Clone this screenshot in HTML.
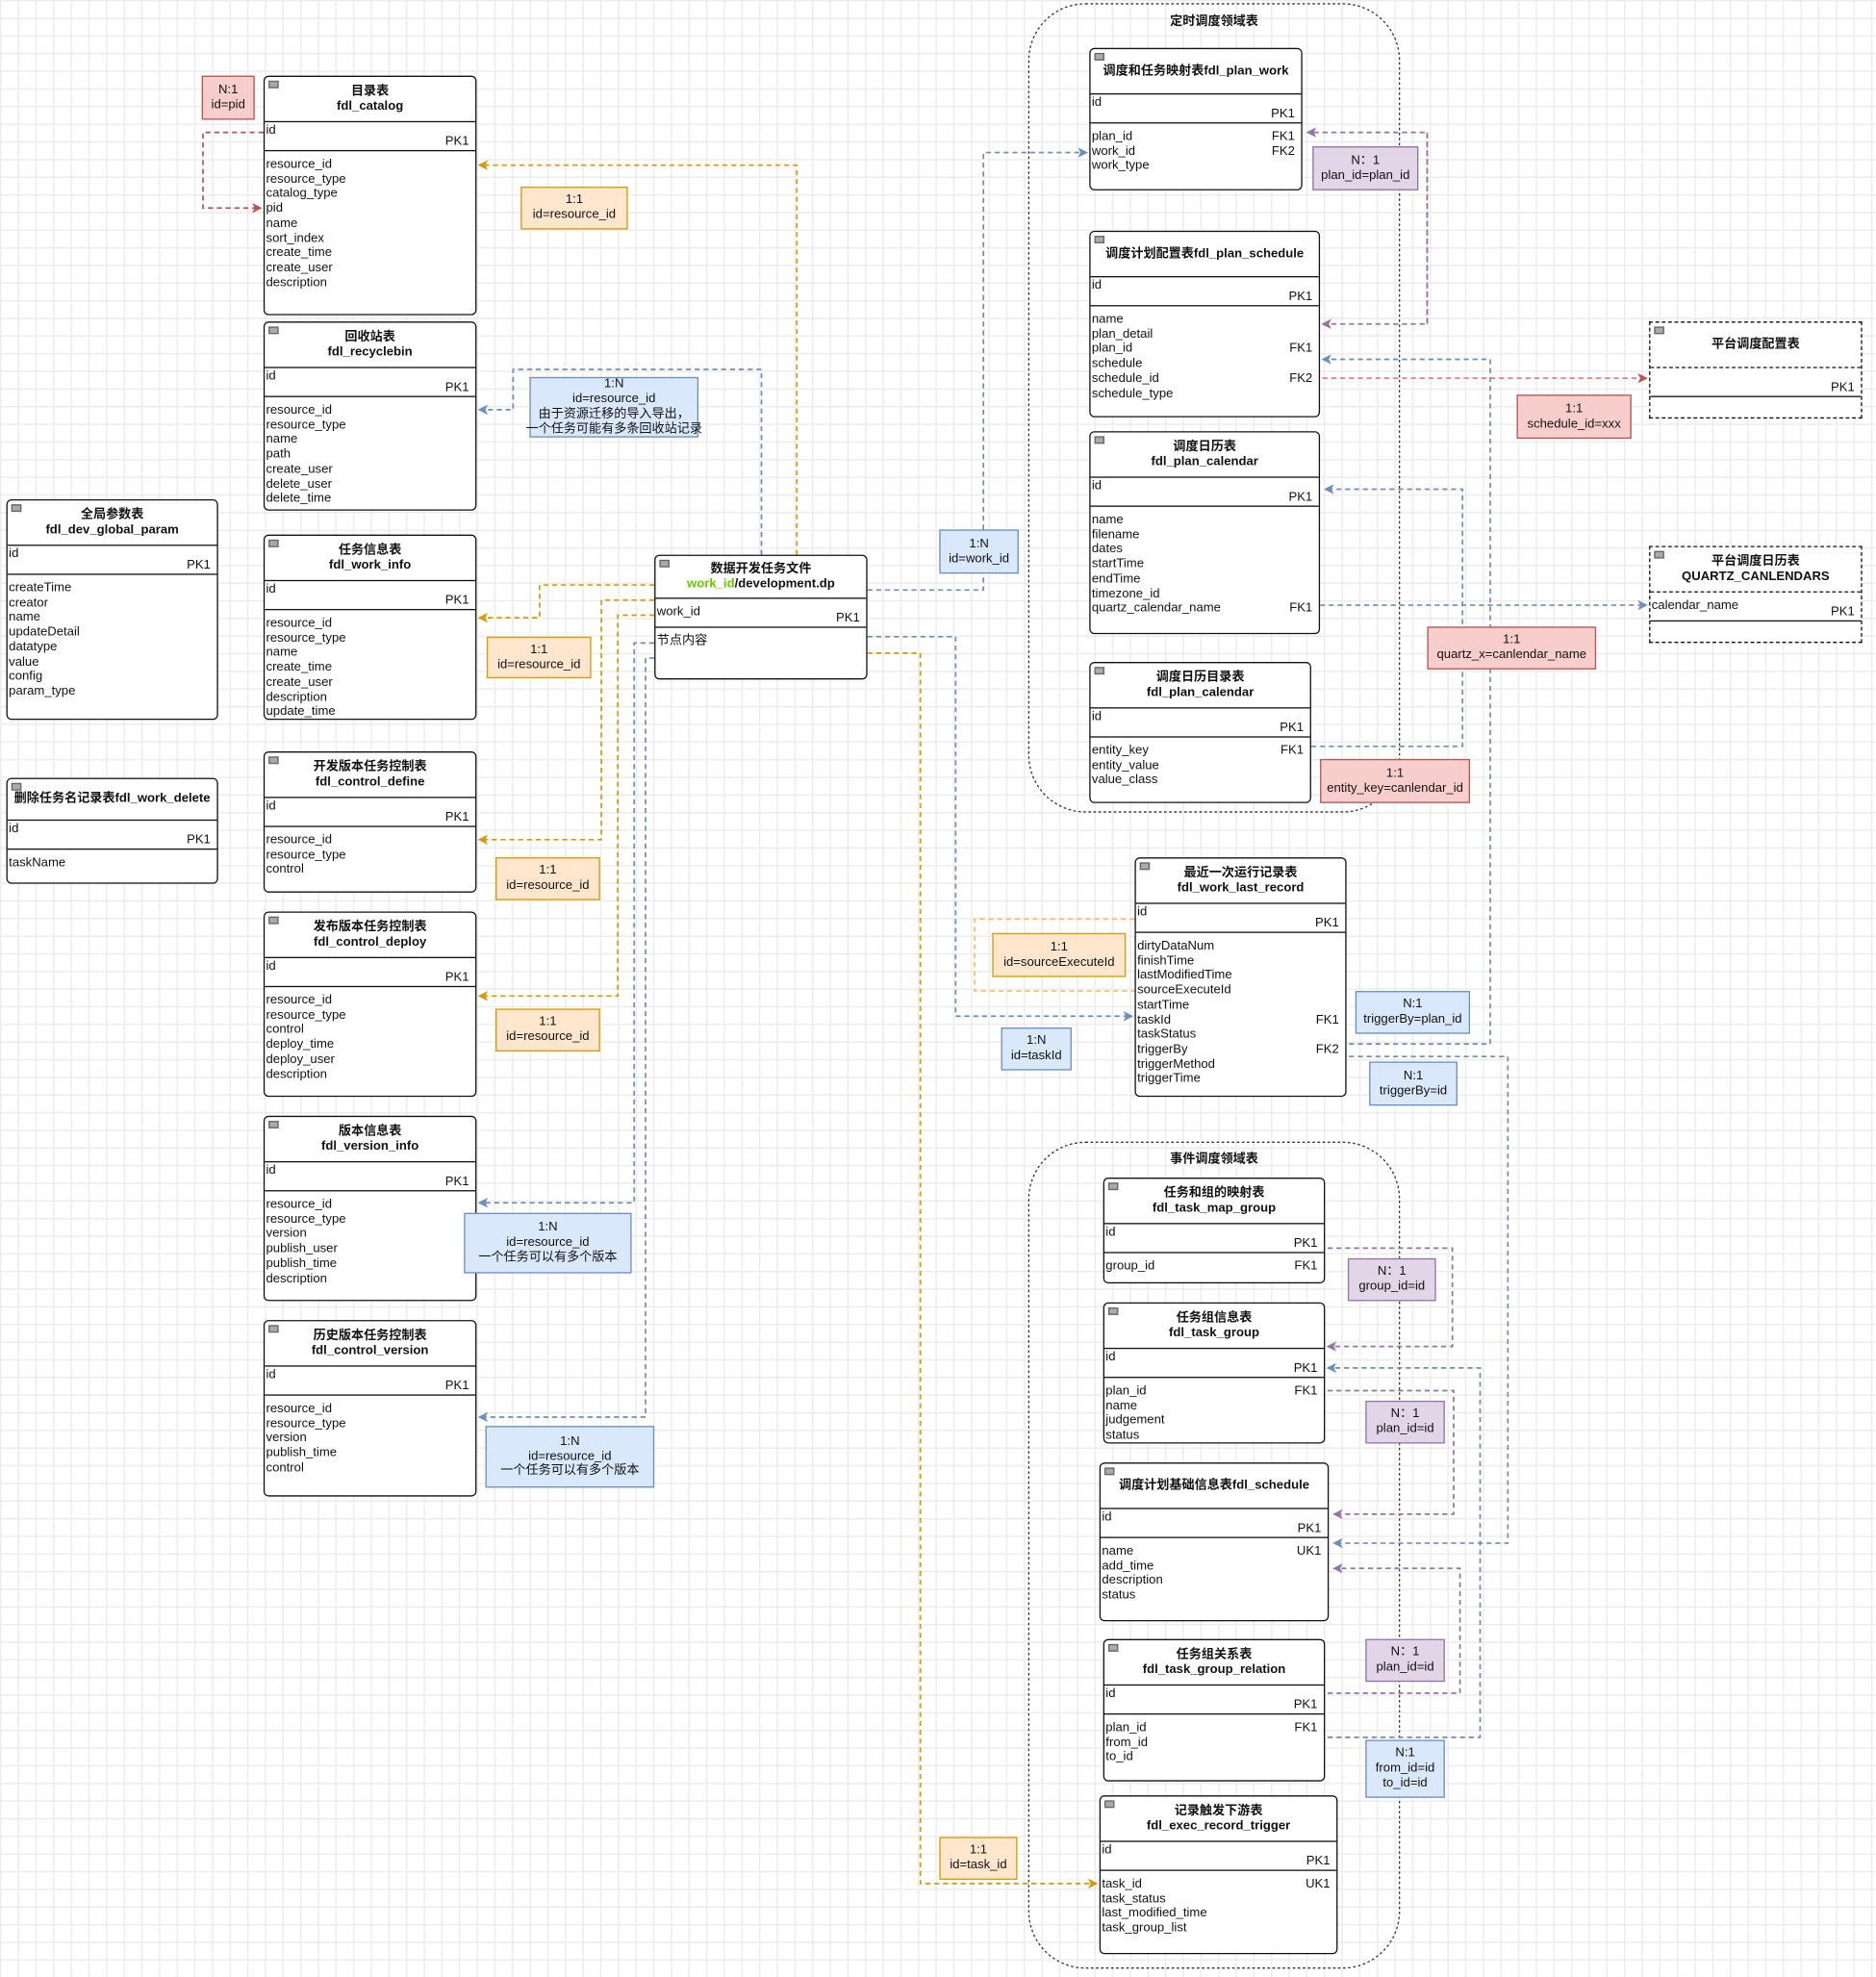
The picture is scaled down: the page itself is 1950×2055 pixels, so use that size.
<!DOCTYPE html>
<html><head><meta charset="utf-8"><style>
html,body{margin:0;padding:0;}
body{width:1950px;height:2055px;overflow:hidden;background:#fff;}
#w{position:absolute;left:0;top:0;width:1488px;height:1568px;transform:scale(1.3105);transform-origin:0 0;
background-color:#fff;background-image:linear-gradient(#ececec 1px,transparent 1px),linear-gradient(90deg,#ececec 1px,transparent 1px);background-size:14px 14px;
font-family:"Liberation Sans","Noto Sans CJK SC",sans-serif;font-size:10px;color:#111;}
svg{position:absolute;left:0;top:0;}
.t{position:absolute;border:1.4px solid #111;border-radius:4px;background:#fff;box-sizing:border-box;}
.t.d{border:1.5px dashed #111;border-radius:0;}
.h{height:35px;border-bottom:1px solid #111;text-align:center;font-weight:bold;display:flex;align-items:center;justify-content:center;line-height:12px;position:relative;font-size:10px;white-space:nowrap;}
.h:before{content:"";position:absolute;left:3px;top:3px;width:6px;height:4px;background:#aaa;border:1px solid #666;}
.k{height:22px;border-bottom:1px solid #111;position:relative;}
.k i{position:absolute;left:1px;top:1px;font-style:normal;}
.k b{position:absolute;right:5px;bottom:1px;font-weight:normal;}
.f{padding-top:5px;line-height:11.7px;}
.f div{padding-left:1px;padding-right:5px;}
.f b{float:right;font-weight:normal;}
.l{position:absolute;box-sizing:border-box;text-align:center;display:flex;flex-direction:column;justify-content:center;line-height:11.8px;font-size:10px;white-space:nowrap;align-items:center;}
.o{background:#ffe6cc;border:1px solid #d79b00;}
.r{background:#f8cecc;border:1px solid #b85450;}
.b{background:#dae8fc;border:1px solid #6c8ebf;}
.p{background:#e1d5e7;border:1px solid #9673a6;}
.g{position:absolute;font-weight:bold;font-size:10px;}
</style></head><body><div id="w">
<svg width="1488" height="1568" viewBox="0 0 1488 1568">
<defs>
<marker id="mo" markerWidth="8" markerHeight="8" refX="7" refY="4" orient="auto" markerUnits="userSpaceOnUse"><path d="M0,0 L8,4 L0,8 L2,4z" fill="#d79b00"/></marker>
<marker id="mb" markerWidth="8" markerHeight="8" refX="7" refY="4" orient="auto" markerUnits="userSpaceOnUse"><path d="M0,0 L8,4 L0,8 L2,4z" fill="#6c8ebf"/></marker>
<marker id="mr" markerWidth="8" markerHeight="8" refX="7" refY="4" orient="auto" markerUnits="userSpaceOnUse"><path d="M0,0 L8,4 L0,8 L2,4z" fill="#b85450"/></marker>
<marker id="mp" markerWidth="8" markerHeight="8" refX="7" refY="4" orient="auto" markerUnits="userSpaceOnUse"><path d="M0,0 L8,4 L0,8 L2,4z" fill="#9673a6"/></marker>
</defs>
<rect x="816" y="3" width="294" height="641" rx="45" fill="none" stroke="#333" stroke-width="1" stroke-dasharray="2,2"/>
<rect x="816" y="906" width="294" height="655" rx="45" fill="none" stroke="#333" stroke-width="1" stroke-dasharray="2,2"/>
<g fill="none" stroke-width="1.3" stroke-dasharray="4,3">
<path d="M209,105 H161 V165 H207" stroke="#b85450" marker-end="url(#mr)"/>
<path d="M632,440 V131 H380" stroke="#d79b00" marker-end="url(#mo)"/>
<path d="M604,440 V293 H407 V325 H380" stroke="#6c8ebf" marker-end="url(#mb)"/>
<path d="M519,464 H428 V490 H380" stroke="#d79b00" marker-end="url(#mo)"/>
<path d="M519,476 H477 V666 H380" stroke="#d79b00" marker-end="url(#mo)"/>
<path d="M519,488 H490 V790 H380" stroke="#d79b00" marker-end="url(#mo)"/>
<path d="M519,510 H503 V954 H380" stroke="#6c8ebf" marker-end="url(#mb)"/>
<path d="M519,522 H512 V1124 H380" stroke="#6c8ebf" marker-end="url(#mb)"/>
<path d="M688,468 H780 V121 H862" stroke="#6c8ebf" marker-end="url(#mb)"/>
<path d="M688,505 H758 V806 H898" stroke="#6c8ebf" marker-end="url(#mb)"/>
<path d="M688,518 H730 V1494 H870" stroke="#d79b00" marker-end="url(#mo)"/>
<path d="M900,729 H773 V786 H900" stroke="#f0c060"/>
<path d="M1132,257 V105 H1037" stroke="#9673a6" marker-end="url(#mp)"/>
<path d="M1132,105 V257 H1049" stroke="#9673a6" marker-end="url(#mp)"/>
<path d="M1035,300 H1306" stroke="#e08080" marker-end="url(#mr)"/>
<path d="M1047,480 H1306" stroke="#6c8ebf" marker-end="url(#mb)"/>
<path d="M1070,828 H1182 V285 H1049" stroke="#6c8ebf" marker-end="url(#mb)"/>
<path d="M1040,592 H1160 V388 H1051" stroke="#6c8ebf" marker-end="url(#mb)"/>
<path d="M1070,838 H1196 V1224 H1058" stroke="#6c8ebf" marker-end="url(#mb)"/>
<path d="M1053,990 H1152 V1068 H1053" stroke="#9673a6" marker-end="url(#mp)"/>
<path d="M1053,1103 H1153 V1201 H1058" stroke="#9673a6" marker-end="url(#mp)"/>
<path d="M1053,1378 H1174 V1085 H1053" stroke="#6c8ebf" marker-end="url(#mb)"/>
<path d="M1053,1343 H1158 V1244 H1058" stroke="#9673a6" marker-end="url(#mp)"/>
</g>
</svg>

<div class="g" style="left:928px;top:8px">定时调度领域表</div>
<div class="g" style="left:928px;top:910px">事件调度领域表</div>

<div class="t" style="left:209px;top:60px;width:169px;height:190px"><div class="h">目录表<br>fdl_catalog</div><div class="k"><i>id</i><b>PK1</b></div><div class="f"><div>resource_id</div><div>resource_type</div><div>catalog_type</div><div>pid</div><div>name</div><div>sort_index</div><div>create_time</div><div>create_user</div><div>description</div></div></div>

<div class="t" style="left:209px;top:255px;width:169px;height:150px"><div class="h">回收站表<br>fdl_recyclebin</div><div class="k"><i>id</i><b>PK1</b></div><div class="f"><div>resource_id</div><div>resource_type</div><div>name</div><div>path</div><div>create_user</div><div>delete_user</div><div>delete_time</div></div></div>

<div class="t" style="left:209px;top:424px;width:169px;height:147px"><div class="h">任务信息表<br>fdl_work_info</div><div class="k"><i>id</i><b>PK1</b></div><div class="f"><div>resource_id</div><div>resource_type</div><div>name</div><div>create_time</div><div>create_user</div><div>description</div><div>update_time</div></div></div>

<div class="t" style="left:209px;top:596px;width:169px;height:112px"><div class="h">开发版本任务控制表<br>fdl_control_define</div><div class="k"><i>id</i><b>PK1</b></div><div class="f"><div>resource_id</div><div>resource_type</div><div>control</div></div></div>

<div class="t" style="left:209px;top:723px;width:169px;height:147px"><div class="h">发布版本任务控制表<br>fdl_control_deploy</div><div class="k"><i>id</i><b>PK1</b></div><div class="f"><div>resource_id</div><div>resource_type</div><div>control</div><div>deploy_time</div><div>deploy_user</div><div>description</div></div></div>

<div class="t" style="left:209px;top:885px;width:169px;height:147px"><div class="h">版本信息表<br>fdl_version_info</div><div class="k"><i>id</i><b>PK1</b></div><div class="f"><div>resource_id</div><div>resource_type</div><div>version</div><div>publish_user</div><div>publish_time</div><div>description</div></div></div>

<div class="t" style="left:209px;top:1047px;width:169px;height:140px"><div class="h">历史版本任务控制表<br>fdl_control_version</div><div class="k"><i>id</i><b>PK1</b></div><div class="f"><div>resource_id</div><div>resource_type</div><div>version</div><div>publish_time</div><div>control</div></div></div>

<div class="t" style="left:5px;top:396px;width:168px;height:175px"><div class="h">全局参数表<br>fdl_dev_global_param</div><div class="k"><i>id</i><b>PK1</b></div><div class="f"><div>createTime</div><div>creator</div><div>name</div><div>updateDetail</div><div>datatype</div><div>value</div><div>config</div><div>param_type</div></div></div>

<div class="t" style="left:5px;top:617px;width:168px;height:84px"><div class="h" style="height:32px">删除任务名记录表fdl_work_delete</div><div class="k"><i>id</i><b>PK1</b></div><div class="f"><div>taskName</div></div></div>

<div class="t" style="left:519px;top:440px;width:169px;height:99px"><div class="h" style="height:34px;display:block;padding-top:5px;box-sizing:border-box">数据开发任务文件<br><span style="color:#66cc00">work_id</span>/development.dp</div><div class="k"><i style="top:5px">work_id</i><b>PK1</b></div><div class="f"><div>节点内容</div></div></div>

<div class="t" style="left:864px;top:38px;width:169px;height:113px"><div class="h">调度和任务映射表fdl_plan_work</div><div class="k"><i>id</i><b>PK1</b></div><div class="f"><div>plan_id<b>FK1</b></div><div>work_id<b>FK2</b></div><div>work_type</div></div></div>

<div class="t" style="left:864px;top:183px;width:183px;height:148px"><div class="h">调度计划配置表fdl_plan_schedule</div><div class="k"><i>id</i><b>PK1</b></div><div class="f"><div>name</div><div>plan_detail</div><div>plan_id<b>FK1</b></div><div>schedule</div><div>schedule_id<b>FK2</b></div><div>schedule_type</div></div></div>

<div class="t" style="left:864px;top:342px;width:183px;height:161px"><div class="h">调度日历表<br>fdl_plan_calendar</div><div class="k"><i>id</i><b>PK1</b></div><div class="f"><div>name</div><div>filename</div><div>dates</div><div>startTime</div><div>endTime</div><div>timezone_id</div><div>quartz_calendar_name<b>FK1</b></div></div></div>

<div class="t" style="left:864px;top:525px;width:176px;height:112px"><div class="h">调度日历目录表<br>fdl_plan_calendar</div><div class="k"><i>id</i><b>PK1</b></div><div class="f"><div>entity_key<b>FK1</b></div><div>entity_value</div><div>value_class</div></div></div>

<div class="t d" style="left:1308px;top:255px;width:169px;height:77px"><div class="h" style="border-bottom:1.5px dashed #111">平台调度配置表</div><div class="k" style="border-bottom:1px solid #111"><b>PK1</b></div></div>

<div class="t d" style="left:1308px;top:433px;width:169px;height:77px"><div class="h" style="border-bottom:1.5px dashed #111">平台调度日历表<br>QUARTZ_CANLENDARS</div><div class="k" style="border-bottom:1px solid #111"><i style="top:5px">calendar_name</i><b>PK1</b></div></div>

<div class="t" style="left:900px;top:680px;width:168px;height:190px"><div class="h">最近一次运行记录表<br>fdl_work_last_record</div><div class="k"><i>id</i><b>PK1</b></div><div class="f"><div>dirtyDataNum</div><div>finishTime</div><div>lastModifiedTime</div><div>sourceExecuteId</div><div>startTime</div><div>taskId<b>FK1</b></div><div>taskStatus</div><div>triggerBy<b>FK2</b></div><div>triggerMethod</div><div>triggerTime</div></div></div>

<div class="t" style="left:875px;top:934px;width:176px;height:84px"><div class="h">任务和组的映射表<br>fdl_task_map_group</div><div class="k"><i>id</i><b>PK1</b></div><div class="f"><div>group_id<b>FK1</b></div></div></div>

<div class="t" style="left:875px;top:1033px;width:176px;height:112px"><div class="h">任务组信息表<br>fdl_task_group</div><div class="k"><i>id</i><b>PK1</b></div><div class="f"><div>plan_id<b>FK1</b></div><div>name</div><div>judgement</div><div>status</div></div></div>

<div class="t" style="left:872px;top:1160px;width:182px;height:126px"><div class="h">调度计划基础信息表fdl_schedule</div><div class="k"><i>id</i><b>PK1</b></div><div class="f"><div>name<b>UK1</b></div><div>add_time</div><div>description</div><div>status</div></div></div>

<div class="t" style="left:875px;top:1300px;width:176px;height:113px"><div class="h">任务组关系表<br>fdl_task_group_relation</div><div class="k"><i>id</i><b>PK1</b></div><div class="f"><div>plan_id<b>FK1</b></div><div>from_id</div><div>to_id</div></div></div>

<div class="t" style="left:872px;top:1424px;width:189px;height:126px"><div class="h">记录触发下游表<br>fdl_exec_record_trigger</div><div class="k"><i>id</i><b>PK1</b></div><div class="f"><div>task_id<b>UK1</b></div><div>task_status</div><div>last_modified_time</div><div>task_group_list</div></div></div>

<div class="l r" style="left:160px;top:60px;width:42px;height:35px">N:1<br>id=pid</div>
<div class="l o" style="left:413px;top:148px;width:85px;height:34px">1:1<br>id=resource_id</div>
<div class="l b" style="left:420px;top:299px;width:134px;height:48px">1:N<br>id=resource_id<br>由于资源迁移的导入导出，<br>一个任务可能有多条回收站记录</div>
<div class="l o" style="left:386px;top:505px;width:83px;height:33px">1:1<br>id=resource_id</div>
<div class="l o" style="left:393px;top:680px;width:83px;height:34px">1:1<br>id=resource_id</div>
<div class="l o" style="left:393px;top:800px;width:83px;height:34px">1:1<br>id=resource_id</div>
<div class="l b" style="left:368px;top:962px;width:133px;height:48px">1:N<br>id=resource_id<br>一个任务可以有多个版本</div>
<div class="l b" style="left:385px;top:1131px;width:134px;height:49px">1:N<br>id=resource_id<br>一个任务可以有多个版本</div>
<div class="l b" style="left:745px;top:420px;width:63px;height:35px">1:N<br>id=work_id</div>
<div class="l p" style="left:1041px;top:116px;width:84px;height:35px">N：1<br>plan_id=plan_id</div>
<div class="l r" style="left:1203px;top:313px;width:91px;height:35px">1:1<br>schedule_id=xxx</div>
<div class="l r" style="left:1132px;top:497px;width:134px;height:34px">1:1<br>quartz_x=canlendar_name</div>
<div class="l r" style="left:1047px;top:602px;width:119px;height:35px">1:1<br>entity_key=canlendar_id</div>
<div class="l o" style="left:787px;top:740px;width:106px;height:35px">1:1<br>id=sourceExecuteId</div>
<div class="l b" style="left:794px;top:815px;width:56px;height:34px">1:N<br>id=taskId</div>
<div class="l b" style="left:1075px;top:786px;width:91px;height:34px">N:1<br>triggerBy=plan_id</div>
<div class="l b" style="left:1086px;top:842px;width:70px;height:35px">N:1<br>triggerBy=id</div>
<div class="l p" style="left:1069px;top:998px;width:70px;height:34px">N：1<br>group_id=id</div>
<div class="l p" style="left:1083px;top:1111px;width:63px;height:34px">N：1<br>plan_id=id</div>
<div class="l p" style="left:1083px;top:1300px;width:63px;height:34px">N：1<br>plan_id=id</div>
<div class="l b" style="left:1083px;top:1380px;width:63px;height:46px">N:1<br>from_id=id<br>to_id=id</div>
<div class="l o" style="left:745px;top:1457px;width:62px;height:34px">1:1<br>id=task_id</div>
</div></body></html>
